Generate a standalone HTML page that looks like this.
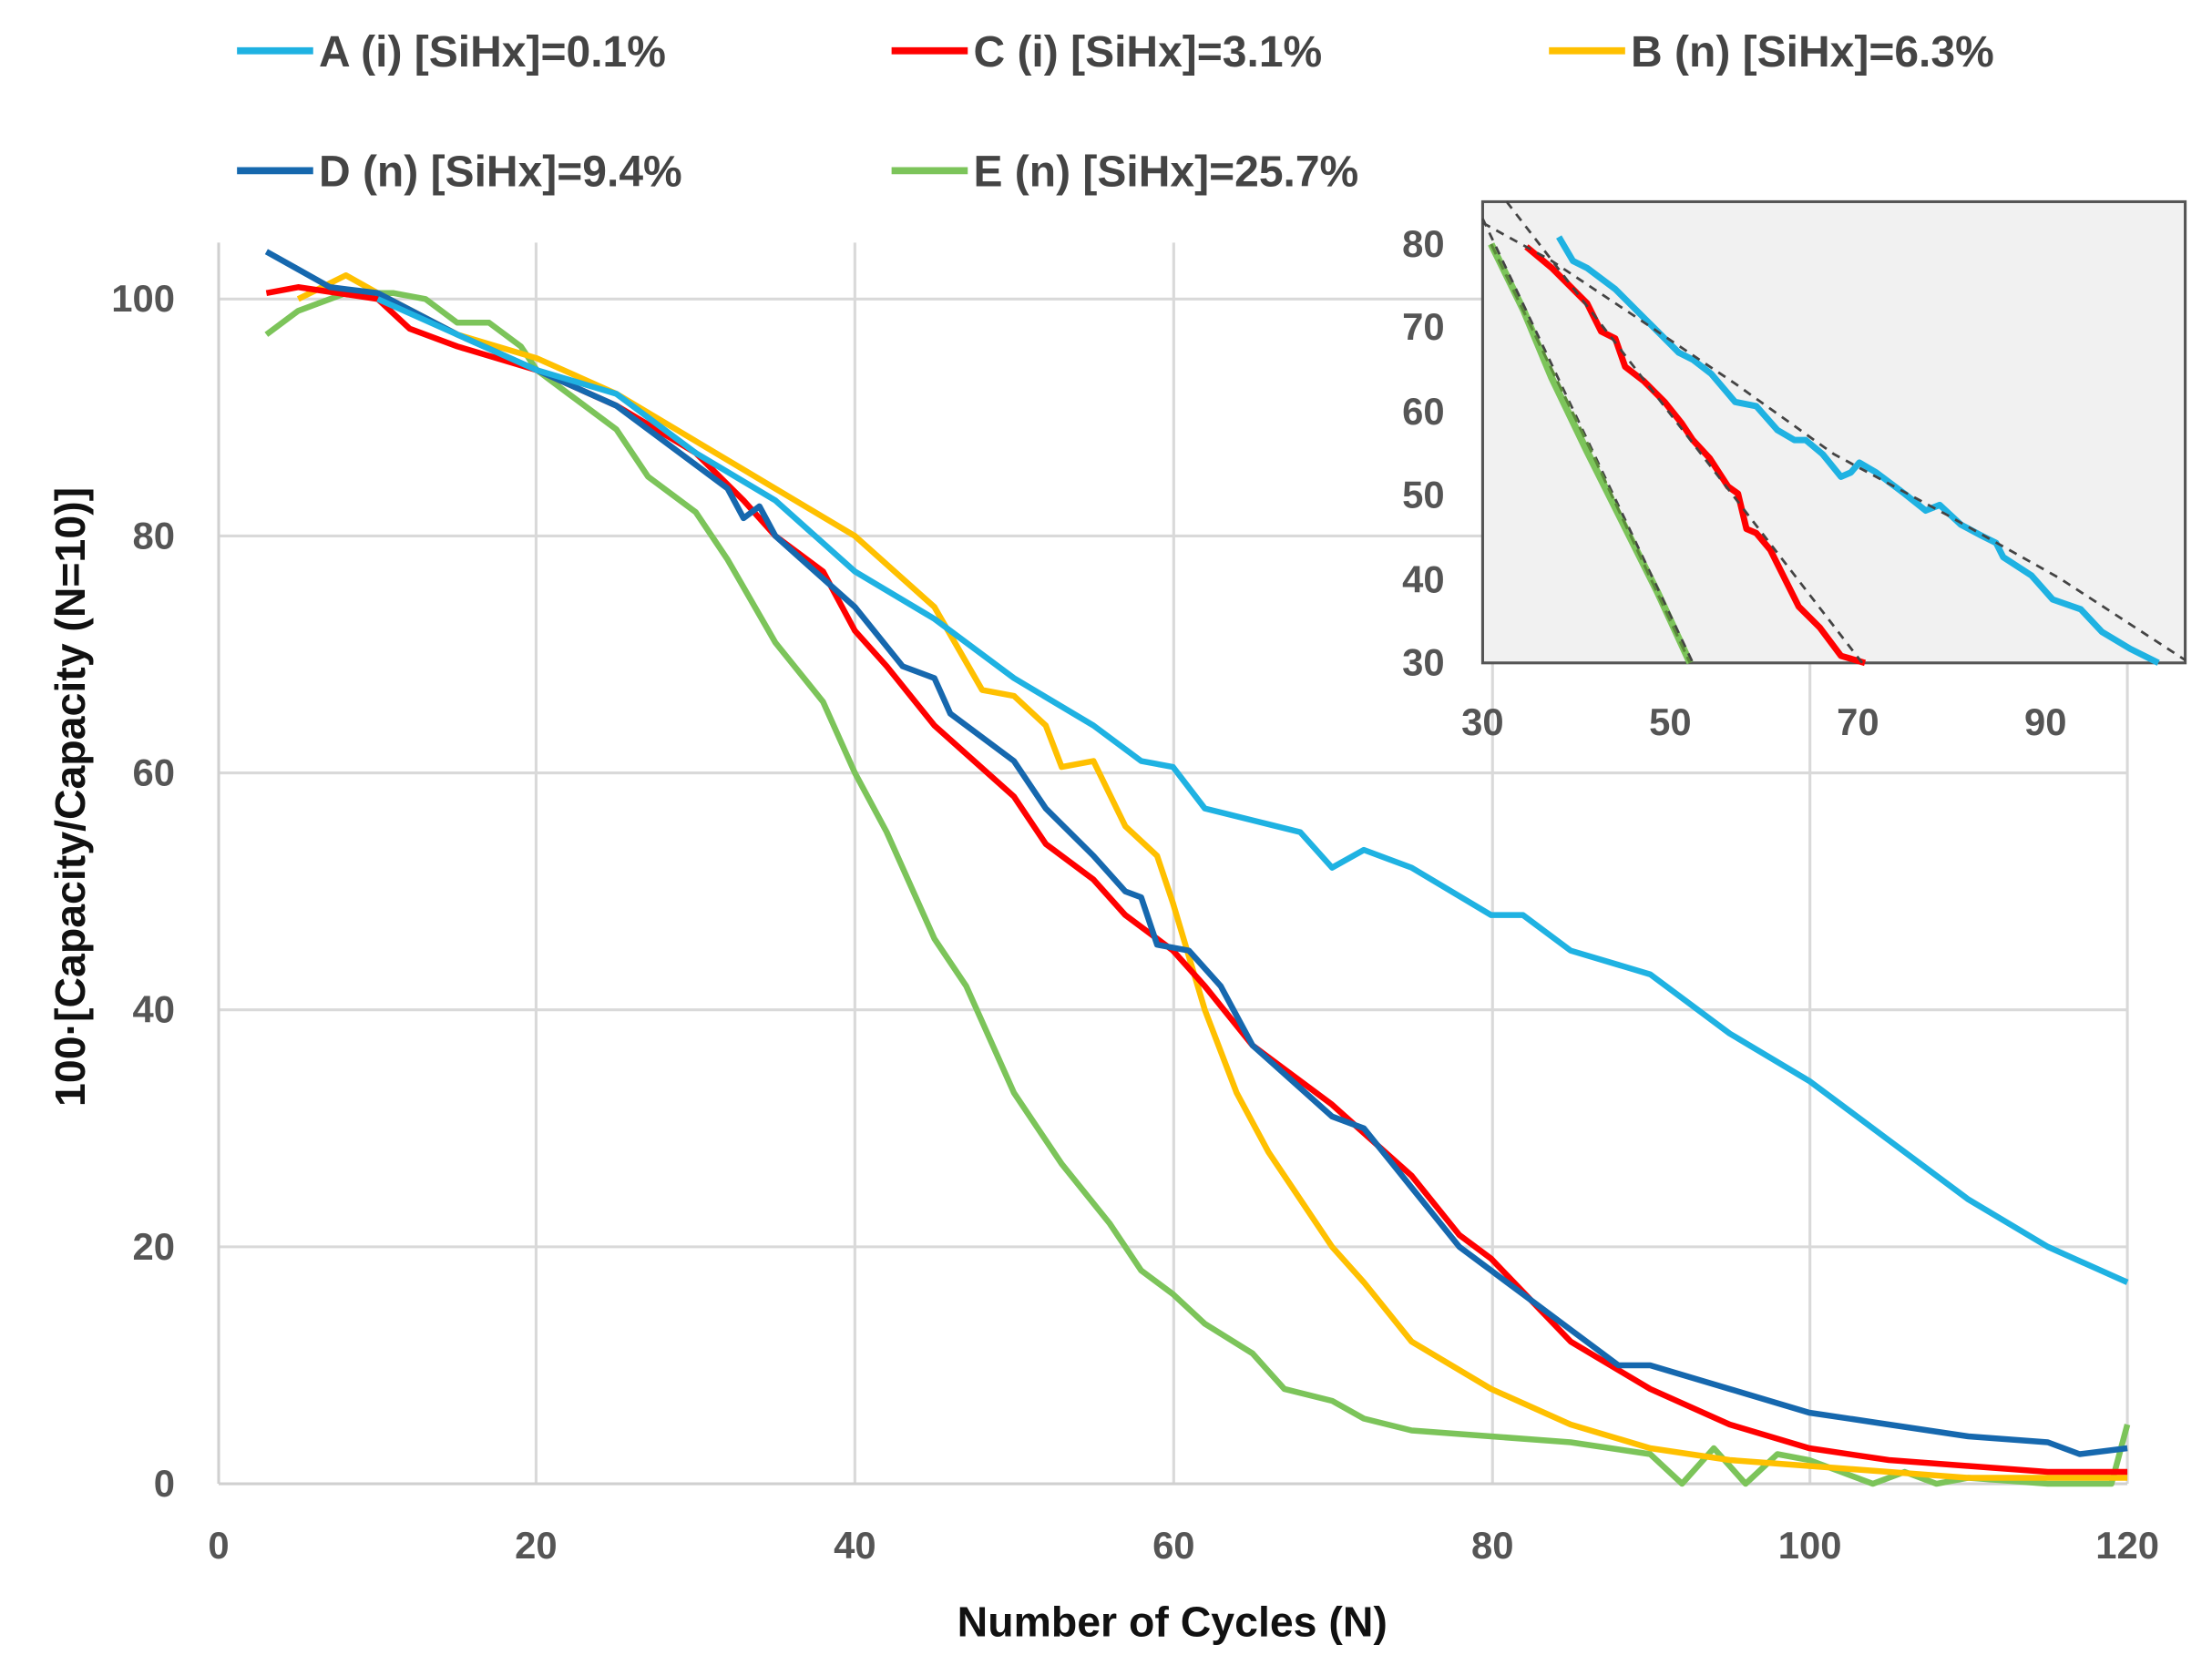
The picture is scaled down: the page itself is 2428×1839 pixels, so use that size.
<!DOCTYPE html>
<html><head><meta charset="utf-8"><style>
html,body{margin:0;padding:0;background:#fff}
svg{display:block}
text{font-family:"Liberation Sans",sans-serif;font-weight:bold}
</style></head><body>
<svg width="2428" height="1839" viewBox="0 0 1568 1187.6" preserveAspectRatio="none" xmlns="http://www.w3.org/2000/svg">
<rect x="0" y="0" width="1568" height="1188" fill="#fff"/>
<g stroke="#d9d9d9" stroke-width="2">
<line x1="380" y1="172" x2="380" y2="1052"/><line x1="606" y1="172" x2="606" y2="1052"/>
<line x1="832" y1="172" x2="832" y2="1052"/><line x1="1058" y1="172" x2="1058" y2="1052"/>
<line x1="1283" y1="172" x2="1283" y2="1052"/><line x1="1508" y1="172" x2="1508" y2="1052"/>
<line x1="155" y1="212" x2="1508" y2="212"/><line x1="155" y1="380" x2="1508" y2="380"/>
<line x1="155" y1="548" x2="1508" y2="548"/><line x1="155" y1="716" x2="1508" y2="716"/>
<line x1="155" y1="884" x2="1508" y2="884"/>
</g>
<line x1="155" y1="172" x2="155" y2="1052" stroke="#d0d0d0" stroke-width="2"/>
<line x1="155" y1="1052" x2="1508" y2="1052" stroke="#d0d0d0" stroke-width="2"/>
<g fill="#555" font-size="27" text-anchor="end">
<text x="124" y="221">100</text><text x="124" y="389">80</text><text x="124" y="557">60</text>
<text x="124" y="725">40</text><text x="124" y="893">20</text><text x="124" y="1061">0</text>
</g>
<g fill="#555" font-size="27" text-anchor="middle">
<text x="155" y="1105">0</text><text x="380" y="1105">20</text><text x="606" y="1105">40</text>
<text x="832" y="1105">60</text><text x="1058" y="1105">80</text><text x="1283" y="1105">100</text><text x="1508" y="1105">120</text>
</g>
<text x="831" y="1160" font-size="30" text-anchor="middle" fill="#111">Number of Cycles (N)</text>
<text transform="translate(60,565) rotate(-90)" font-size="30" text-anchor="middle" fill="#111">100·[Capacity/Capacity (N=10)]</text>
<g transform="translate(155,1052) scale(11.275,-8.4)" fill="none" stroke-width="6.5" stroke-linejoin="round">
<polyline vector-effect="non-scaling-stroke" stroke="#7cc45a" points="3,97 5,99 8,100.5 11,100.5 13,100 15,98 17,98 19,96 20,94 22,92 25,89 27,85 30,82 32,78 35,71 38,66 40,60 42,55 45,46 47,42 50,33 53,27 56,22 58,18 60,16 62,13.5 65,11 67,8 70,7 72,5.5 75,4.5 80,4 85,3.5 90,2.5 92,0 94,3 96,0 98,2.5 100,2 102,1 104,0 106,1 108,0 110,0.5 115,0 119,0 120,5"/>
<polyline vector-effect="non-scaling-stroke" stroke="#ffc000" points="5,100 8,102 10,100.5 15,97 20,95 25,92 30,88 35,84 40,80 45,74 48,67 50,66.5 52,64 53,60.5 55,61 57,55.5 59,53 60,49 62,40 64,33 66,28 68,24 70,20 72,17 75,12 80,8 85,5 90,3 95,2 100,1.5 105,1 110,0.5 120,0.5"/>
<polyline vector-effect="non-scaling-stroke" stroke="#ff0000" points="3,100.5 5,101 10,100 12,97.5 15,96 20,94 25,91 30,87 33,83 35,80 38,77 40,72 42,69 45,64 50,58 52,54 55,51 57,48 60,45 62,42 65,37 70,32 75,26 78,21 80,19 85,12 90,8 95,5 100,3 105,2 110,1.5 115,1 120,1"/>
<polyline vector-effect="non-scaling-stroke" stroke="#1668ae" points="3,104 5,102.5 7,101 10,100.5 15,97 20,94 25,91 30,86 32,84 33,81.5 34,82.5 35,80 40,74 43,69 45,68 46,65 50,61 52,57 55,53 57,50 58,49.5 59,45.5 61,45 63,42 65,37 70,31 72,30 75,25 78,20 80,18 82,16 85,13 88,10 90,10 95,8 100,6 105,5 110,4 115,3.5 117,2.5 120,3"/>
<polyline vector-effect="non-scaling-stroke" stroke="#1fb2e2" points="10,100 15,97 20,94 25,92 30,87 35,83 40,77 45,73 50,68 55,64 58,61 60,60.5 62,57 65,56 68,55 70,52 72,53.5 75,52 80,48 82,48 85,45 90,43 95,38 100,34 105,29 110,24 115,20 120,17"/>
</g>
<rect x="1051" y="143" width="498" height="327" fill="#f1f1f1" stroke="#555" stroke-width="2"/>
<g fill="#555" font-size="27" text-anchor="end">
<text x="1024" y="182">80</text><text x="1024" y="241">70</text><text x="1024" y="301">60</text>
<text x="1024" y="360">50</text><text x="1024" y="420">40</text><text x="1024" y="479">30</text>
</g>
<g fill="#555" font-size="27" text-anchor="middle">
<text x="1051" y="521">30</text><text x="1184" y="521">50</text><text x="1317" y="521">70</text><text x="1450" y="521">90</text>
</g>
<g fill="none" stroke-linejoin="round">
<polyline stroke="#7cc45a" stroke-width="5" points="1057,173 1080,220 1100,268 1125,320 1150,370 1175,420 1198,470"/>
<polyline stroke="#ff0000" stroke-width="4.5" points="1082,175 1100,190 1115,205 1125,215 1135,235 1145,240 1152,260 1165,270 1180,285 1192,300 1200,312 1212,325 1225,345 1232,350 1238,375 1245,378 1255,390 1265,410 1275,430 1290,445 1305,465 1322,470"/>
<polyline stroke="#1fb2e2" stroke-width="4.5" points="1105,168 1115,185 1125,190 1145,205 1160,220 1175,235 1190,250 1200,255 1213,265 1230,285 1245,288 1260,305 1272,312 1280,312 1292,322 1305,338 1312,335 1318,328 1330,335 1350,350 1365,362 1375,358 1390,372 1405,380 1415,385 1420,395 1440,408 1455,425 1475,432 1490,448 1510,460 1530,470"/>
<g stroke="#444" stroke-width="1.8" stroke-dasharray="6,5">
<line x1="1051" y1="155" x2="1200" y2="470"/>
<line x1="1068" y1="143" x2="1320" y2="470"/>
<polyline points="1051,158 1100,185 1160,225 1230,272 1300,322 1380,365 1460,410 1549,468"/>
</g>
<polyline stroke="#5a8a3a" stroke-width="2" stroke-dasharray="8,4" points="1057,173 1128,320 1198,470"/>
</g>
<g stroke-width="5">
<line x1="168" y1="36" x2="222" y2="36" stroke="#1fb2e2"/>
<line x1="632" y1="36" x2="686" y2="36" stroke="#ff0000"/>
<line x1="1098" y1="36" x2="1152" y2="36" stroke="#ffc000"/>
<line x1="168" y1="121" x2="222" y2="121" stroke="#1668ae"/>
<line x1="632" y1="121" x2="686" y2="121" stroke="#7cc45a"/>
</g>
<g fill="#444" font-size="31">
<text x="226" y="47">A (i)  [SiHx]=0.1%</text>
<text x="690" y="47">C (i)  [SiHx]=3.1%</text>
<text x="1156" y="47">B (n) [SiHx]=6.3%</text>
<text x="226" y="132">D (n) [SiHx]=9.4%</text>
<text x="690" y="132">E (n) [SiHx]=25.7%</text>
</g>
</svg>
</body></html>
